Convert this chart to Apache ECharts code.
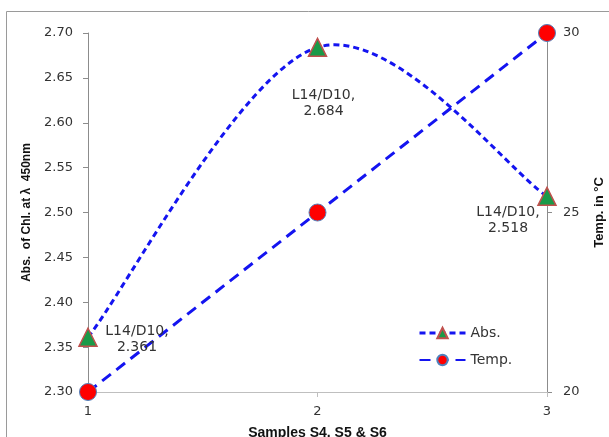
<!DOCTYPE html>
<html>
<head>
<meta charset="utf-8">
<script src="https://cdn.jsdelivr.net/npm/echarts@6/dist/echarts.min.js"></script>
<style>html,body{margin:0;padding:0;background:#fff;}#c{width:609px;height:437px;}</style>
</head>
<body>
<div id="c"></div>
<script>
var samples = [1, 2, 3];
var absValues = [2.361, 2.684, 2.518];
var tempValues = [20, 25, 30];
var pointLabels = ['L14/D10,\n2.361', 'L14/D10,\n2.684', 'L14/D10,\n2.518'];
var labelOffsets = [[49, 2], [6, 56], [-39, 24]];

var chart = echarts.init(document.getElementById('c'));
var font = 'DejaVu Sans';
var titleFont = 'Liberation Sans';
var blue = '#1414f0';
var absData = samples.map(function (s, i) {
  return {
    value: [s, absValues[i]],
    label: {
      show: true, position: 'inside', offset: labelOffsets[i],
      formatter: pointLabels[i], color: '#333', fontSize: 14, lineHeight: 16,
      fontFamily: font, align: 'center', verticalAlign: 'middle'
    }
  };
});
var tempData = samples.map(function (s, i) { return [s, tempValues[i]]; });

// Excel-like smooth curve (Catmull-Rom through the data points, via the axis scales)
function renderAbsCurve(params, api) {
  if (params.dataIndex !== 0) return null;
  var pts = samples.map(function (s, i) { return api.coord([s, absValues[i]]); });
  var n = pts.length;
  var d = 'M' + pts[0][0] + ' ' + pts[0][1];
  for (var i = 0; i < n - 1; i++) {
    var p0 = pts[i > 0 ? i - 1 : i], p1 = pts[i], p2 = pts[i + 1], p3 = pts[i + 2 < n ? i + 2 : i + 1];
    var c1x = p1[0] + (p2[0] - p0[0]) / 6, c1y = p1[1] + (p2[1] - p0[1]) / 6;
    var c2x = p2[0] - (p3[0] - p1[0]) / 6, c2y = p2[1] - (p3[1] - p1[1]) / 6;
    d += ' C' + c1x + ' ' + c1y + ' ' + c2x + ' ' + c2y + ' ' + p2[0] + ' ' + p2[1];
  }
  return {
    type: 'path',
    shape: {pathData: d},
    style: {fill: 'none', stroke: blue, lineWidth: 3, lineDash: [6, 4]}
  };
}

chart.setOption({
  animation: false,
  graphic: [{
    type: 'rect', shape: {x: 6.5, y: 11.5, width: 700, height: 500},
    style: {fill: 'none', stroke: '#9a9a9a', lineWidth: 1}, silent: true
  }],
  grid: {left: 88, right: 62, top: 33, bottom: 45, outerBoundsMode: 'none', containLabel: false},
  legend: {
    orient: 'vertical', left: 413, top: 321, itemWidth: 46, itemHeight: 13, itemGap: 13,
    textStyle: {fontFamily: font, fontSize: 14, color: '#333'},
    data: [{name: 'Abs.', lineStyle: {opacity: 1, color: blue, width: 3, type: [6, 4]}}, {name: 'Temp.'}]
  },
  xAxis: {
    type: 'value', min: 1, max: 3, interval: 1,
    name: 'Samples S4, S5 & S6', nameLocation: 'middle', nameGap: 34,
    nameTextStyle: {fontFamily: titleFont, fontWeight: 'bold', fontSize: 14, color: '#111'},
    axisLine: {show: true, lineStyle: {color: '#bfbfbf'}},
    axisTick: {show: true, length: 5, lineStyle: {color: '#bfbfbf'}},
    axisLabel: {fontFamily: font, fontSize: 13, color: '#333', margin: 13},
    splitLine: {show: false}
  },
  yAxis: [{
    type: 'value', min: 2.30, max: 2.70, interval: 0.05,
    name: 'Abs.  of Chl. at λ  450nm', nameLocation: 'middle', nameGap: 54, nameRotate: 90,
    nameTextStyle: {fontFamily: titleFont, fontWeight: 'bold', fontSize: 12, color: '#111'},
    axisLine: {show: true, lineStyle: {color: '#8c8c8c'}},
    axisTick: {show: true, length: 5, lineStyle: {color: '#8c8c8c'}},
    axisLabel: {fontFamily: font, fontSize: 13, color: '#333', margin: 15,
      formatter: function (v) { return v.toFixed(2); }},
    splitLine: {show: false}
  }, {
    type: 'value', min: 20, max: 30, interval: 5, position: 'right',
    name: 'Temp. in °C', nameLocation: 'middle', nameGap: 46, nameRotate: 90,
    nameTextStyle: {fontFamily: titleFont, fontWeight: 'bold', fontSize: 13, color: '#111'},
    axisLine: {show: true, lineStyle: {color: '#8c8c8c'}},
    axisTick: {show: true, length: 5, lineStyle: {color: '#8c8c8c'}},
    axisLabel: {fontFamily: font, fontSize: 13, color: '#333', margin: 16},
    splitLine: {show: false}
  }],
  series: [{
    name: 'AbsCurve', type: 'custom', xAxisIndex: 0, yAxisIndex: 0,
    data: [[samples[0], absValues[0]]],
    encode: {x: 0, y: 1},
    renderItem: renderAbsCurve,
    silent: true, z: 2
  }, {
    name: 'Abs.', type: 'line', yAxisIndex: 0,
    data: absData,
    symbol: 'triangle', symbolSize: 18,
    itemStyle: {color: '#1a9a48', borderColor: '#c0504d', borderWidth: 1.5},
    lineStyle: {color: blue, width: 3, type: [6, 4], opacity: 0},
    z: 4
  }, {
    name: 'Temp.', type: 'line', yAxisIndex: 1,
    data: tempData,
    symbol: 'circle', symbolSize: 17,
    itemStyle: {color: '#ff0000', borderColor: '#4f81bd', borderWidth: 1},
    lineStyle: {color: blue, width: 3, type: [11, 7]},
    z: 3
  }]
});
</script>
</body>
</html>
